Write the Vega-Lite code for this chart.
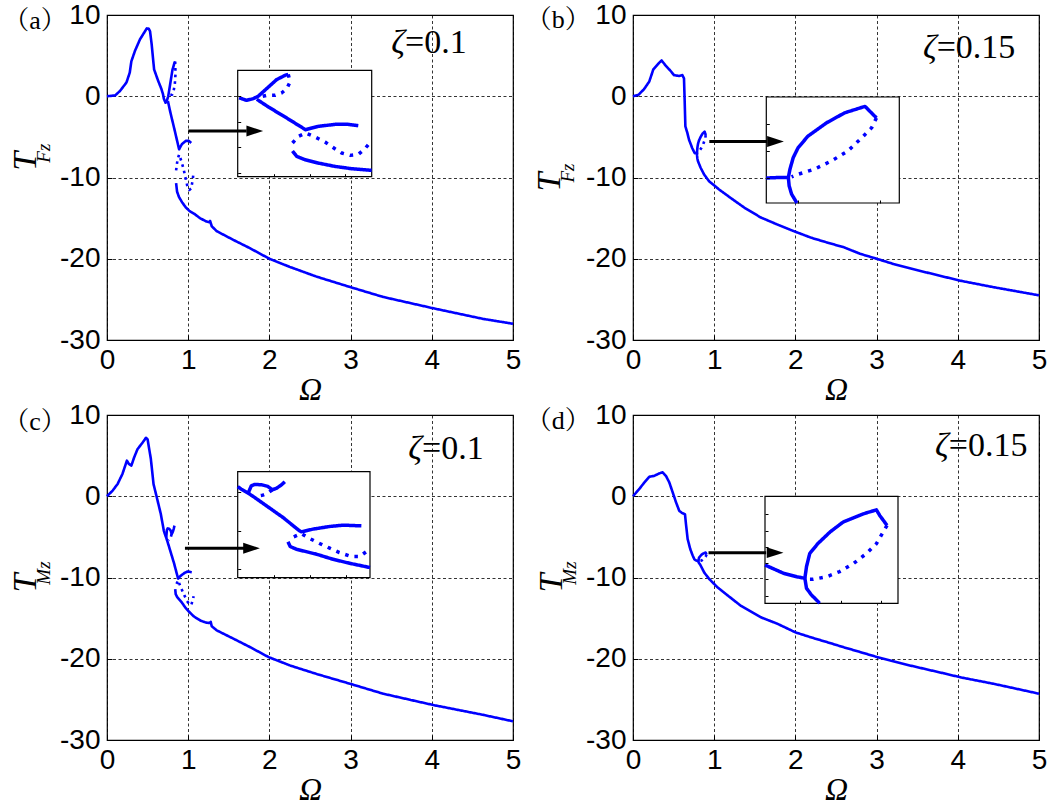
{
  "$schema": "https://vega.github.io/schema/vega-lite/v6.json",
  "background": "white",
  "padding": {"left": 2, "top": 0, "right": 0, "bottom": 0},
  "config": {
    "view": {"stroke": "black", "strokeWidth": 1.2},
    "axis": {
      "labelFont": "Liberation Sans", "labelFontSize": 28, "labelColor": "black",
      "tickColor": "black", "tickWidth": 1, "domain": false,
      "labelFlush": false, "labelOverlap": false, "labelBound": false,
      "gridColor": "black", "gridDash": [3, 2.5], "gridWidth": 0.8, "gridOpacity": 1,
      "titleFont": "Liberation Serif", "titleFontStyle": "italic", "titleFontWeight": "normal",
      "titleColor": "black", "titleFontSize": 32
    },
    "text": {"color": "black"}
  },
  "datasets": {
    "a": [
      {"s":"A1","k":"solid","o":0,"t":0},{"s":"A1","k":"solid","o":0.05,"t":0.05},{"s":"A1","k":"solid","o":0.1,"t":0.1},{"s":"A1","k":"solid","o":0.16,"t":0.65},{"s":"A1","k":"solid","o":0.24,"t":1.7},{"s":"A1","k":"solid","o":0.28,"t":2.9},{"s":"A1","k":"solid","o":0.3,"t":4.3},{"s":"A1","k":"solid","o":0.345,"t":5.6},{"s":"A1","k":"solid","o":0.406,"t":7.0},{"s":"A1","k":"solid","o":0.468,"t":8.0},{"s":"A1","k":"solid","o":0.49,"t":8.35},{"s":"A1","k":"solid","o":0.515,"t":8.3},{"s":"A1","k":"solid","o":0.53,"t":8.0},{"s":"A1","k":"solid","o":0.55,"t":6.4},{"s":"A1","k":"solid","o":0.58,"t":3.3},{"s":"A1","k":"solid","o":0.63,"t":1.9},{"s":"A1","k":"solid","o":0.67,"t":0.9},{"s":"A1","k":"solid","o":0.69,"t":0.24},{"s":"A1","k":"solid","o":0.7,"t":-0.3},{"s":"A1","k":"solid","o":0.707,"t":-0.47},{"s":"A1","k":"solid","o":0.721,"t":-0.8},{"s":"A1","k":"solid","o":0.74,"t":-0.47},{"s":"A1","k":"solid","o":0.754,"t":0},{"s":"A1","k":"solid","o":0.783,"t":1.8},{"s":"A1","k":"solid","o":0.806,"t":3.24},{"s":"A1","k":"solid","o":0.83,"t":4.08},{"s":"A1","k":"solid","o":0.839,"t":4.28},
      {"s":"A2","k":"dot","o":0.839,"t":4.28},{"s":"A2","k":"dot","o":0.844,"t":2.78},{"s":"A2","k":"dot","o":0.835,"t":1.48},{"s":"A2","k":"dot","o":0.82,"t":0.63},{"s":"A2","k":"dot","o":0.802,"t":0.18},{"s":"A2","k":"dot","o":0.778,"t":0.18},{"s":"A2","k":"dot","o":0.759,"t":-0.15},
      {"s":"A3","k":"solid","o":0.75,"t":-0.6},{"s":"A3","k":"solid","o":0.783,"t":-2.1},{"s":"A3","k":"solid","o":0.83,"t":-4.05},{"s":"A3","k":"solid","o":0.868,"t":-5.68},{"s":"A3","k":"solid","o":0.888,"t":-6.53},{"s":"A3","k":"solid","o":0.905,"t":-6.2},{"s":"A3","k":"solid","o":0.924,"t":-5.88},{"s":"A3","k":"solid","o":0.971,"t":-5.49},{"s":"A3","k":"solid","o":1.009,"t":-5.49},{"s":"A3","k":"solid","o":1.037,"t":-5.75},
      {"s":"A4","k":"dot","o":0.851,"t":-9.13},{"s":"A4","k":"dot","o":0.868,"t":-7.83},{"s":"A4","k":"dot","o":0.888,"t":-7.18},{"s":"A4","k":"dot","o":0.915,"t":-7.96},{"s":"A4","k":"dot","o":0.943,"t":-8.94},{"s":"A4","k":"dot","o":0.971,"t":-10.24},{"s":"A4","k":"dot","o":0.99,"t":-11.08},{"s":"A4","k":"dot","o":1.014,"t":-11.54},{"s":"A4","k":"dot","o":1.037,"t":-11.35},{"s":"A4","k":"dot","o":1.056,"t":-10.24},{"s":"A4","k":"dot","o":1.066,"t":-9.39},
      {"s":"A5","k":"solid","o":0.851,"t":-10.69},{"s":"A5","k":"solid","o":0.863,"t":-11.74},{"s":"A5","k":"solid","o":0.886,"t":-12.39},{"s":"A5","k":"solid","o":0.924,"t":-13.04},{"s":"A5","k":"solid","o":0.971,"t":-13.69},{"s":"A5","k":"solid","o":1.018,"t":-14.14},{"s":"A5","k":"solid","o":1.075,"t":-14.47},{"s":"A5","k":"solid","o":1.145,"t":-15.0},{"s":"A5","k":"solid","o":1.22,"t":-15.4},{"s":"A5","k":"solid","o":1.26,"t":-15.5},{"s":"A5","k":"solid","o":1.27,"t":-15.35},{"s":"A5","k":"solid","o":1.29,"t":-16.0},{"s":"A5","k":"solid","o":1.35,"t":-16.6},{"s":"A5","k":"solid","o":1.56,"t":-17.7},{"s":"A5","k":"solid","o":1.76,"t":-18.7},{"s":"A5","k":"solid","o":2.0,"t":-20.0},{"s":"A5","k":"solid","o":2.25,"t":-21.0},{"s":"A5","k":"solid","o":2.58,"t":-22.2},{"s":"A5","k":"solid","o":3.0,"t":-23.5},{"s":"A5","k":"solid","o":3.4,"t":-24.7},{"s":"A5","k":"solid","o":4.02,"t":-26.1},{"s":"A5","k":"solid","o":4.63,"t":-27.4},{"s":"A5","k":"solid","o":5.0,"t":-28.0}
    ],
    "b": [
      {"s":"B1","k":"solid","o":0,"t":0},{"s":"B1","k":"solid","o":0.07,"t":0.2},{"s":"B1","k":"solid","o":0.135,"t":0.86},{"s":"B1","k":"solid","o":0.2,"t":1.8},{"s":"B1","k":"solid","o":0.25,"t":3.3},{"s":"B1","k":"solid","o":0.32,"t":4.1},{"s":"B1","k":"solid","o":0.353,"t":4.4},{"s":"B1","k":"solid","o":0.4,"t":3.8},{"s":"B1","k":"solid","o":0.456,"t":3.2},{"s":"B1","k":"solid","o":0.505,"t":2.6},{"s":"B1","k":"solid","o":0.567,"t":2.5},{"s":"B1","k":"solid","o":0.608,"t":2.6},{"s":"B1","k":"solid","o":0.628,"t":2.2},{"s":"B1","k":"solid","o":0.636,"t":-0.45},{"s":"B1","k":"solid","o":0.645,"t":-3.7},{"s":"B1","k":"solid","o":0.669,"t":-4.5},{"s":"B1","k":"solid","o":0.69,"t":-5.35},{"s":"B1","k":"solid","o":0.73,"t":-6.4},{"s":"B1","k":"solid","o":0.761,"t":-7.02},{"s":"B1","k":"solid","o":0.776,"t":-7.0},{"s":"B1","k":"solid","o":0.788,"t":-7.0},{"s":"B1","k":"solid","o":0.789,"t":-7.31},{"s":"B1","k":"solid","o":0.792,"t":-7.62},{"s":"B1","k":"solid","o":0.7985,"t":-7.95},{"s":"B1","k":"solid","o":0.833,"t":-8.8},{"s":"B1","k":"solid","o":0.874,"t":-9.6},{"s":"B1","k":"solid","o":0.936,"t":-10.45},{"s":"B1","k":"solid","o":1.06,"t":-11.47},{"s":"B1","k":"solid","o":1.2,"t":-12.5},{"s":"B1","k":"solid","o":1.37,"t":-13.7},{"s":"B1","k":"solid","o":1.57,"t":-14.9},{"s":"B1","k":"solid","o":1.78,"t":-15.8},{"s":"B1","k":"solid","o":1.98,"t":-16.6},{"s":"B1","k":"solid","o":2.19,"t":-17.4},{"s":"B1","k":"solid","o":2.39,"t":-18.0},{"s":"B1","k":"solid","o":2.6,"t":-18.6},{"s":"B1","k":"solid","o":2.8,"t":-19.4},{"s":"B1","k":"solid","o":3.0,"t":-20.0},{"s":"B1","k":"solid","o":3.21,"t":-20.65},{"s":"B1","k":"solid","o":3.62,"t":-21.7},{"s":"B1","k":"solid","o":4.03,"t":-22.7},{"s":"B1","k":"solid","o":4.44,"t":-23.5},{"s":"B1","k":"solid","o":5.0,"t":-24.5},
      {"s":"B2","k":"solid","o":0.788,"t":-7.0},{"s":"B2","k":"solid","o":0.79,"t":-6.69},{"s":"B2","k":"solid","o":0.794,"t":-6.26},{"s":"B2","k":"solid","o":0.8,"t":-5.89},{"s":"B2","k":"solid","o":0.812,"t":-5.46},{"s":"B2","k":"solid","o":0.835,"t":-4.96},{"s":"B2","k":"solid","o":0.857,"t":-4.59},{"s":"B2","k":"solid","o":0.882,"t":-4.35},{"s":"B2","k":"solid","o":0.896,"t":-4.78},
      {"s":"B3","k":"dot","o":0.896,"t":-4.78},{"s":"B3","k":"dot","o":0.89,"t":-5.15},{"s":"B3","k":"dot","o":0.878,"t":-5.52},{"s":"B3","k":"dot","o":0.861,"t":-6.01},{"s":"B3","k":"dot","o":0.841,"t":-6.38},{"s":"B3","k":"dot","o":0.82,"t":-6.69},{"s":"B3","k":"dot","o":0.8,"t":-6.88},{"s":"B3","k":"dot","o":0.792,"t":-6.98}
    ],
    "c": [
      {"s":"C1","k":"solid","o":0,"t":0},{"s":"C1","k":"solid","o":0.07,"t":0.7},{"s":"C1","k":"solid","o":0.13,"t":1.5},{"s":"C1","k":"solid","o":0.19,"t":2.74},{"s":"C1","k":"solid","o":0.245,"t":4.38},{"s":"C1","k":"solid","o":0.27,"t":3.97},{"s":"C1","k":"solid","o":0.3,"t":3.77},{"s":"C1","k":"solid","o":0.335,"t":4.8},{"s":"C1","k":"solid","o":0.376,"t":5.8},{"s":"C1","k":"solid","o":0.438,"t":6.6},{"s":"C1","k":"solid","o":0.48,"t":7.2},{"s":"C1","k":"solid","o":0.5,"t":7.0},{"s":"C1","k":"solid","o":0.54,"t":4.6},{"s":"C1","k":"solid","o":0.573,"t":1.5},{"s":"C1","k":"solid","o":0.622,"t":-0.5},{"s":"C1","k":"solid","o":0.663,"t":-2.2},{"s":"C1","k":"solid","o":0.7,"t":-4.25},{"s":"C1","k":"solid","o":0.71,"t":-4.57},{"s":"C1","k":"solid","o":0.729,"t":-5.09},{"s":"C1","k":"solid","o":0.743,"t":-5.52},{"s":"C1","k":"solid","o":0.78,"t":-6.74},{"s":"C1","k":"solid","o":0.826,"t":-8.26},{"s":"C1","k":"solid","o":0.872,"t":-10.0},{"s":"C1","k":"solid","o":0.877,"t":-10.13},{"s":"C1","k":"solid","o":0.909,"t":-9.78},{"s":"C1","k":"solid","o":0.956,"t":-9.43},{"s":"C1","k":"solid","o":0.993,"t":-9.26},{"s":"C1","k":"solid","o":1.044,"t":-9.35},
      {"s":"C2","k":"solid","o":0.729,"t":-5.09},{"s":"C2","k":"solid","o":0.738,"t":-4.13},{"s":"C2","k":"solid","o":0.747,"t":-3.96},{"s":"C2","k":"solid","o":0.766,"t":-4.0},{"s":"C2","k":"solid","o":0.784,"t":-4.22},{"s":"C2","k":"solid","o":0.796,"t":-4.65},{"s":"C2","k":"solid","o":0.807,"t":-4.48},{"s":"C2","k":"solid","o":0.821,"t":-4.04},{"s":"C2","k":"solid","o":0.831,"t":-3.61},
      {"s":"C3","k":"dot","o":0.796,"t":-4.65},{"s":"C3","k":"dot","o":0.784,"t":-5.09},{"s":"C3","k":"dot","o":0.77,"t":-5.35},{"s":"C3","k":"dot","o":0.761,"t":-5.43},
      {"s":"C4","k":"dot","o":0.856,"t":-10.78},{"s":"C4","k":"dot","o":0.877,"t":-10.35},{"s":"C4","k":"dot","o":0.895,"t":-10.87},{"s":"C4","k":"dot","o":0.932,"t":-11.74},{"s":"C4","k":"dot","o":0.956,"t":-12.26},{"s":"C4","k":"dot","o":0.983,"t":-12.83},{"s":"C4","k":"dot","o":1.016,"t":-13.35},{"s":"C4","k":"dot","o":1.039,"t":-13.35},{"s":"C4","k":"dot","o":1.057,"t":-12.74},{"s":"C4","k":"dot","o":1.067,"t":-12.3},
      {"s":"C5","k":"solid","o":0.84,"t":-11.43},{"s":"C5","k":"solid","o":0.846,"t":-12.04},{"s":"C5","k":"solid","o":0.863,"t":-12.39},{"s":"C5","k":"solid","o":0.919,"t":-13.04},{"s":"C5","k":"solid","o":0.965,"t":-13.7},{"s":"C5","k":"solid","o":1.011,"t":-14.22},{"s":"C5","k":"solid","o":1.068,"t":-14.78},{"s":"C5","k":"solid","o":1.15,"t":-15.3},{"s":"C5","k":"solid","o":1.22,"t":-15.55},{"s":"C5","k":"solid","o":1.265,"t":-15.6},{"s":"C5","k":"solid","o":1.277,"t":-15.45},{"s":"C5","k":"solid","o":1.29,"t":-16.0},{"s":"C5","k":"solid","o":1.35,"t":-16.5},{"s":"C5","k":"solid","o":1.563,"t":-17.56},{"s":"C5","k":"solid","o":1.768,"t":-18.6},{"s":"C5","k":"solid","o":1.99,"t":-19.8},{"s":"C5","k":"solid","o":2.26,"t":-20.85},{"s":"C5","k":"solid","o":2.59,"t":-21.9},{"s":"C5","k":"solid","o":3.0,"t":-23.1},{"s":"C5","k":"solid","o":3.4,"t":-24.3},{"s":"C5","k":"solid","o":4.02,"t":-25.7},{"s":"C5","k":"solid","o":4.63,"t":-26.9},{"s":"C5","k":"solid","o":5.0,"t":-27.7}
    ],
    "d": [
      {"s":"D1","k":"solid","o":0,"t":0},{"s":"D1","k":"solid","o":0.078,"t":0.9},{"s":"D1","k":"solid","o":0.14,"t":1.7},{"s":"D1","k":"solid","o":0.2,"t":2.4},{"s":"D1","k":"solid","o":0.26,"t":2.5},{"s":"D1","k":"solid","o":0.32,"t":2.8},{"s":"D1","k":"solid","o":0.365,"t":2.95},{"s":"D1","k":"solid","o":0.406,"t":2.5},{"s":"D1","k":"solid","o":0.447,"t":1.7},{"s":"D1","k":"solid","o":0.488,"t":0.5},{"s":"D1","k":"solid","o":0.53,"t":-0.75},{"s":"D1","k":"solid","o":0.57,"t":-1.8},{"s":"D1","k":"solid","o":0.61,"t":-2.1},{"s":"D1","k":"solid","o":0.64,"t":-2.2},{"s":"D1","k":"solid","o":0.652,"t":-3.4},{"s":"D1","k":"solid","o":0.673,"t":-5.27},{"s":"D1","k":"solid","o":0.705,"t":-6.5},{"s":"D1","k":"solid","o":0.735,"t":-7.3},{"s":"D1","k":"solid","o":0.757,"t":-7.78},{"s":"D1","k":"solid","o":0.78,"t":-7.908},{"s":"D1","k":"solid","o":0.796,"t":-7.96},{"s":"D1","k":"solid","o":0.806,"t":-7.985},{"s":"D1","k":"solid","o":0.808,"t":-8.138},{"s":"D1","k":"solid","o":0.814,"t":-8.24},{"s":"D1","k":"solid","o":0.822,"t":-8.34},{"s":"D1","k":"solid","o":0.824,"t":-8.37},{"s":"D1","k":"solid","o":0.837,"t":-8.6},{"s":"D1","k":"solid","o":0.878,"t":-9.4},{"s":"D1","k":"solid","o":0.94,"t":-10.2},{"s":"D1","k":"solid","o":1.04,"t":-11.2},{"s":"D1","k":"solid","o":1.165,"t":-12.2},{"s":"D1","k":"solid","o":1.33,"t":-13.5},{"s":"D1","k":"solid","o":1.575,"t":-14.9},{"s":"D1","k":"solid","o":1.78,"t":-15.7},{"s":"D1","k":"solid","o":2.0,"t":-16.75},{"s":"D1","k":"solid","o":2.19,"t":-17.36},{"s":"D1","k":"solid","o":2.395,"t":-17.97},{"s":"D1","k":"solid","o":2.6,"t":-18.6},{"s":"D1","k":"solid","o":2.806,"t":-19.2},{"s":"D1","k":"solid","o":3.01,"t":-19.8},{"s":"D1","k":"solid","o":3.42,"t":-20.85},{"s":"D1","k":"solid","o":3.83,"t":-21.8},{"s":"D1","k":"solid","o":4.04,"t":-22.3},{"s":"D1","k":"solid","o":4.45,"t":-23.1},{"s":"D1","k":"solid","o":5.0,"t":-24.3},
      {"s":"D2","k":"solid","o":0.806,"t":-7.985},{"s":"D2","k":"solid","o":0.808,"t":-7.806},{"s":"D2","k":"solid","o":0.812,"t":-7.602},{"s":"D2","k":"solid","o":0.822,"t":-7.449},{"s":"D2","k":"solid","o":0.837,"t":-7.27},{"s":"D2","k":"solid","o":0.853,"t":-7.117},{"s":"D2","k":"solid","o":0.878,"t":-6.99},{"s":"D2","k":"solid","o":0.894,"t":-6.929},{"s":"D2","k":"solid","o":0.898,"t":-7.015},{"s":"D2","k":"solid","o":0.907,"t":-7.168},
      {"s":"D3","k":"dot","o":0.907,"t":-7.168},{"s":"D3","k":"dot","o":0.9,"t":-7.32},{"s":"D3","k":"dot","o":0.894,"t":-7.45},{"s":"D3","k":"dot","o":0.882,"t":-7.6},{"s":"D3","k":"dot","o":0.866,"t":-7.755},{"s":"D3","k":"dot","o":0.849,"t":-7.88},{"s":"D3","k":"dot","o":0.833,"t":-7.96},{"s":"D3","k":"dot","o":0.816,"t":-8.0},{"s":"D3","k":"dot","o":0.808,"t":-8.0}
    ]
  },
  "bounds": "flush",
  "columns": 2,
  "spacing": {"row": 75, "column": 120},
  "concat": [
    {
      "width": 406, "height": 325,
      "resolve": {"scale": {"x": "independent", "y": "independent", "strokeDash": "independent"}},
      "layer": [
        {"layer": [
          {"data": {"name": "a"},
           "transform": [{"window": [{"op": "row_number", "as": "n"}]}],
           "mark": {"type": "line", "color": "#0000ff", "strokeWidth": 2.6, "strokeJoin": "round"},
           "encoding": {
             "x": {"field": "o", "type": "quantitative", "scale": {"domain": [0, 5], "nice": false, "zero": false},
                   "axis": {"values": [0, 1, 2, 3, 4, 5], "labelExpr": "'' + datum.value", "grid": true, "tickSize": -5, "labelPadding": 11, "title": "Ω", "titlePadding": 0, "zindex": 0}},
             "y": {"field": "t", "type": "quantitative", "scale": {"domain": [-30, 10], "nice": false, "zero": false},
                   "axis": {"values": [-30, -20, -10, 0, 10], "labelExpr": "'' + datum.value", "grid": true, "tickSize": -5, "labelPadding": 12, "title": null, "zindex": 0}},
             "detail": {"field": "s", "type": "nominal"},
             "order": {"field": "n", "type": "quantitative"},
             "strokeDash": {"field": "k", "type": "nominal", "scale": {"domain": ["solid", "dot"], "range": [[1, 0], [2.6, 4]]}, "legend": null}
           }},
          {"data": {"values": [{"txt": "ζ"}]},
           "mark": {"type": "text", "font": "Liberation Serif", "fontStyle": "italic", "fontSize": 34, "align": "right", "baseline": "alphabetic"},
           "encoding": {"x": {"datum": 3.67, "type": "quantitative"}, "y": {"datum": 5.32, "type": "quantitative"}, "text": {"field": "txt"}}},
          {"data": {"values": [{"txt": "=0.1"}]},
           "mark": {"type": "text", "font": "Liberation Serif", "fontSize": 34, "align": "left", "baseline": "alphabetic"},
           "encoding": {"x": {"datum": 3.67, "type": "quantitative"}, "y": {"datum": 5.32, "type": "quantitative"}, "text": {"field": "txt"}}},
          {"data": {"values": [{"txt": "（a）"}]},
           "mark": {"type": "text", "font": "Liberation Serif, Noto Serif CJK SC, Noto Sans CJK SC", "fontSize": 26, "align": "center", "baseline": "middle"},
           "encoding": {"x": {"datum": -0.887, "type": "quantitative"}, "y": {"datum": 9.3, "type": "quantitative"}, "text": {"field": "txt"}}},
          {"data": {"values": [{"txt": "T"}]},
           "mark": {"type": "text", "font": "Liberation Serif", "fontStyle": "italic", "fontSize": 34, "angle": 270, "align": "center", "baseline": "middle"},
           "encoding": {"x": {"datum": -1.0, "type": "quantitative"}, "y": {"datum": -8.0, "type": "quantitative"}, "text": {"field": "txt"}}},
          {"data": {"values": [{"txt": "Fz"}]},
           "mark": {"type": "text", "font": "Liberation Serif", "fontStyle": "italic", "fontSize": 19, "angle": 270, "align": "center", "baseline": "middle"},
           "encoding": {"x": {"datum": -0.78, "type": "quantitative"}, "y": {"datum": -7.0, "type": "quantitative"}, "text": {"field": "txt"}}}
        ]},
        {"layer": [
          {"data": {"values": [{}]},
           "mark": {"type": "rect", "fill": "white", "stroke": "black", "strokeWidth": 1.2},
           "encoding": {
             "x": {"datum": 0.696, "type": "quantitative", "scale": {"domain": [0.696, 1.075], "range": [130.7, 264.7], "nice": false, "zero": false},
                   "axis": {"orient": "bottom", "offset": -163.3, "values": [0.8, 0.9, 1.0], "labels": false, "grid": false, "tickSize": -3, "title": null, "zindex": 1}},
             "x2": {"datum": 1.075},
             "y": {"datum": -15.7, "type": "quantitative", "scale": {"domain": [-15.7, 5.06], "range": [161.7, 55.3], "nice": false, "zero": false},
                   "axis": {"orient": "left", "offset": -130.7, "values": [0, -5, -10, -15], "labels": false, "grid": false, "tickSize": -3, "title": null, "zindex": 1}},
             "y2": {"datum": 5.06}
           }},
          {"data": {"name": "a"},
           "transform": [{"window": [{"op": "row_number", "as": "n"}]}, {"filter": "datum.o >= 0.696 && datum.o <= 1.075 && datum.t >= -15.7 && datum.t <= 5.06"}],
           "mark": {"type": "line", "color": "#0000ff", "strokeWidth": 3.5, "strokeJoin": "round"},
           "encoding": {
             "x": {"field": "o", "type": "quantitative", "scale": {"domain": [0.696, 1.075], "range": [130.7, 264.7], "nice": false, "zero": false}},
             "y": {"field": "t", "type": "quantitative", "scale": {"domain": [-15.7, 5.06], "range": [161.7, 55.3], "nice": false, "zero": false}},
             "detail": {"field": "s", "type": "nominal"},
             "order": {"field": "n", "type": "quantitative"},
             "strokeDash": {"field": "k", "type": "nominal", "scale": {"domain": ["solid", "dot"], "range": [[1, 0], [3.5, 6]]}, "legend": null}
           }}
        ]},
        {"layer": [
          {"data": {"values": [{}]},
           "mark": {"type": "rule", "color": "black", "strokeWidth": 3},
           "encoding": {"x": {"datum": 1.0, "type": "quantitative", "scale": {"domain": [0, 5], "nice": false, "zero": false}, "axis": null}, "x2": {"datum": 1.72},
                        "y": {"datum": -4.28, "type": "quantitative", "scale": {"domain": [-30, 10], "nice": false, "zero": false}, "axis": null}}},
          {"data": {"values": [{}]},
           "mark": {"type": "point", "filled": true, "color": "black", "opacity": 1, "shape": "M-1,-0.65L1,0L-1,0.65Z", "size": 280},
           "encoding": {"x": {"datum": 1.82, "type": "quantitative", "scale": {"domain": [0, 5], "nice": false, "zero": false}, "axis": null},
                        "y": {"datum": -4.28, "type": "quantitative", "scale": {"domain": [-30, 10], "nice": false, "zero": false}, "axis": null}}}
        ]}
      ]
    },
    {
      "width": 406, "height": 325,
      "resolve": {"scale": {"x": "independent", "y": "independent", "strokeDash": "independent"}},
      "layer": [
        {"layer": [
          {"data": {"name": "b"},
           "transform": [{"window": [{"op": "row_number", "as": "n"}]}],
           "mark": {"type": "line", "color": "#0000ff", "strokeWidth": 2.6, "strokeJoin": "round"},
           "encoding": {
             "x": {"field": "o", "type": "quantitative", "scale": {"domain": [0, 5], "nice": false, "zero": false},
                   "axis": {"values": [0, 1, 2, 3, 4, 5], "labelExpr": "'' + datum.value", "grid": true, "tickSize": -5, "labelPadding": 11, "title": "Ω", "titlePadding": 0, "zindex": 0}},
             "y": {"field": "t", "type": "quantitative", "scale": {"domain": [-30, 10], "nice": false, "zero": false},
                   "axis": {"values": [-30, -20, -10, 0, 10], "labelExpr": "'' + datum.value", "grid": true, "tickSize": -5, "labelPadding": 12, "title": null, "zindex": 0}},
             "detail": {"field": "s", "type": "nominal"},
             "order": {"field": "n", "type": "quantitative"},
             "strokeDash": {"field": "k", "type": "nominal", "scale": {"domain": ["solid", "dot"], "range": [[1, 0], [2.6, 4]]}, "legend": null}
           }},
          {"data": {"values": [{"txt": "ζ"}]},
           "mark": {"type": "text", "font": "Liberation Serif", "fontStyle": "italic", "fontSize": 34, "align": "right", "baseline": "alphabetic"},
           "encoding": {"x": {"datum": 3.74, "type": "quantitative"}, "y": {"datum": 4.74, "type": "quantitative"}, "text": {"field": "txt"}}},
          {"data": {"values": [{"txt": "=0.15"}]},
           "mark": {"type": "text", "font": "Liberation Serif", "fontSize": 34, "align": "left", "baseline": "alphabetic"},
           "encoding": {"x": {"datum": 3.74, "type": "quantitative"}, "y": {"datum": 4.74, "type": "quantitative"}, "text": {"field": "txt"}}},
          {"data": {"values": [{"txt": "（b）"}]},
           "mark": {"type": "text", "font": "Liberation Serif, Noto Serif CJK SC, Noto Sans CJK SC", "fontSize": 26, "align": "center", "baseline": "middle"},
           "encoding": {"x": {"datum": -0.92, "type": "quantitative"}, "y": {"datum": 9.4, "type": "quantitative"}, "text": {"field": "txt"}}},
          {"data": {"values": [{"txt": "T"}]},
           "mark": {"type": "text", "font": "Liberation Serif", "fontStyle": "italic", "fontSize": 34, "angle": 270, "align": "center", "baseline": "middle"},
           "encoding": {"x": {"datum": -1.02, "type": "quantitative"}, "y": {"datum": -10.55, "type": "quantitative"}, "text": {"field": "txt"}}},
          {"data": {"values": [{"txt": "Fz"}]},
           "mark": {"type": "text", "font": "Liberation Serif", "fontStyle": "italic", "fontSize": 19, "angle": 270, "align": "center", "baseline": "middle"},
           "encoding": {"x": {"datum": -0.8, "type": "quantitative"}, "y": {"datum": -9.45, "type": "quantitative"}, "text": {"field": "txt"}}}
        ]},
        {"layer": [
          {"data": {"values": [{}]},
           "mark": {"type": "rect", "fill": "white", "stroke": "black", "strokeWidth": 1.2},
           "encoding": {
             "x": {"datum": 0.761, "type": "quantitative", "scale": {"domain": [0.761, 0.924], "range": [133.3, 266.3], "nice": false, "zero": false},
                   "axis": {"orient": "bottom", "offset": -137, "values": [0.8, 0.9], "labels": false, "grid": false, "tickSize": -3, "title": null, "zindex": 1}},
             "x2": {"datum": 0.924},
             "y": {"datum": -7.95, "type": "quantitative", "scale": {"domain": [-7.95, -4.0], "range": [188, 82], "nice": false, "zero": false},
                   "axis": {"orient": "left", "offset": -133.3, "values": [-5, -6, -7], "labels": false, "grid": false, "tickSize": -3, "title": null, "zindex": 1}},
             "y2": {"datum": -4.0}
           }},
          {"data": {"name": "b"},
           "transform": [{"window": [{"op": "row_number", "as": "n"}]}, {"filter": "datum.o >= 0.761 && datum.o <= 0.924 && datum.t >= -7.95 && datum.t <= -4.0"}],
           "mark": {"type": "line", "color": "#0000ff", "strokeWidth": 3.5, "strokeJoin": "round"},
           "encoding": {
             "x": {"field": "o", "type": "quantitative", "scale": {"domain": [0.761, 0.924], "range": [133.3, 266.3], "nice": false, "zero": false}},
             "y": {"field": "t", "type": "quantitative", "scale": {"domain": [-7.95, -4.0], "range": [188, 82], "nice": false, "zero": false}},
             "detail": {"field": "s", "type": "nominal"},
             "order": {"field": "n", "type": "quantitative"},
             "strokeDash": {"field": "k", "type": "nominal", "scale": {"domain": ["solid", "dot"], "range": [[1, 0], [3.5, 6]]}, "legend": null}
           }}
        ]},
        {"layer": [
          {"data": {"values": [{}]},
           "mark": {"type": "rule", "color": "black", "strokeWidth": 3},
           "encoding": {"x": {"datum": 0.94, "type": "quantitative", "scale": {"domain": [0, 5], "nice": false, "zero": false}, "axis": null}, "x2": {"datum": 1.65},
                        "y": {"datum": -5.57, "type": "quantitative", "scale": {"domain": [-30, 10], "nice": false, "zero": false}, "axis": null}}},
          {"data": {"values": [{}]},
           "mark": {"type": "point", "filled": true, "color": "black", "opacity": 1, "shape": "M-1,-0.65L1,0L-1,0.65Z", "size": 280},
           "encoding": {"x": {"datum": 1.755, "type": "quantitative", "scale": {"domain": [0, 5], "nice": false, "zero": false}, "axis": null},
                        "y": {"datum": -5.57, "type": "quantitative", "scale": {"domain": [-30, 10], "nice": false, "zero": false}, "axis": null}}}
        ]}
      ]
    },
    {
      "width": 406, "height": 325,
      "resolve": {"scale": {"x": "independent", "y": "independent", "strokeDash": "independent"}},
      "layer": [
        {"layer": [
          {"data": {"name": "c"},
           "transform": [{"window": [{"op": "row_number", "as": "n"}]}],
           "mark": {"type": "line", "color": "#0000ff", "strokeWidth": 2.6, "strokeJoin": "round"},
           "encoding": {
             "x": {"field": "o", "type": "quantitative", "scale": {"domain": [0, 5], "nice": false, "zero": false},
                   "axis": {"values": [0, 1, 2, 3, 4, 5], "labelExpr": "'' + datum.value", "grid": true, "tickSize": -5, "labelPadding": 11, "title": "Ω", "titlePadding": 0, "zindex": 0}},
             "y": {"field": "t", "type": "quantitative", "scale": {"domain": [-30, 10], "nice": false, "zero": false},
                   "axis": {"values": [-30, -20, -10, 0, 10], "labelExpr": "'' + datum.value", "grid": true, "tickSize": -5, "labelPadding": 12, "title": null, "zindex": 0}},
             "detail": {"field": "s", "type": "nominal"},
             "order": {"field": "n", "type": "quantitative"},
             "strokeDash": {"field": "k", "type": "nominal", "scale": {"domain": ["solid", "dot"], "range": [[1, 0], [2.6, 4]]}, "legend": null}
           }},
          {"data": {"values": [{"txt": "ζ"}]},
           "mark": {"type": "text", "font": "Liberation Serif", "fontStyle": "italic", "fontSize": 34, "align": "right", "baseline": "alphabetic"},
           "encoding": {"x": {"datum": 3.88, "type": "quantitative"}, "y": {"datum": 4.58, "type": "quantitative"}, "text": {"field": "txt"}}},
          {"data": {"values": [{"txt": "=0.1"}]},
           "mark": {"type": "text", "font": "Liberation Serif", "fontSize": 34, "align": "left", "baseline": "alphabetic"},
           "encoding": {"x": {"datum": 3.88, "type": "quantitative"}, "y": {"datum": 4.58, "type": "quantitative"}, "text": {"field": "txt"}}},
          {"data": {"values": [{"txt": "（c）"}]},
           "mark": {"type": "text", "font": "Liberation Serif, Noto Serif CJK SC, Noto Sans CJK SC", "fontSize": 26, "align": "center", "baseline": "middle"},
           "encoding": {"x": {"datum": -0.887, "type": "quantitative"}, "y": {"datum": 9.14, "type": "quantitative"}, "text": {"field": "txt"}}},
          {"data": {"values": [{"txt": "T"}]},
           "mark": {"type": "text", "font": "Liberation Serif", "fontStyle": "italic", "fontSize": 34, "angle": 270, "align": "center", "baseline": "middle"},
           "encoding": {"x": {"datum": -0.995, "type": "quantitative"}, "y": {"datum": -10.68, "type": "quantitative"}, "text": {"field": "txt"}}},
          {"data": {"values": [{"txt": "Mz"}]},
           "mark": {"type": "text", "font": "Liberation Serif", "fontStyle": "italic", "fontSize": 19, "angle": 270, "align": "center", "baseline": "middle"},
           "encoding": {"x": {"datum": -0.77, "type": "quantitative"}, "y": {"datum": -9.45, "type": "quantitative"}, "text": {"field": "txt"}}}
        ]},
        {"layer": [
          {"data": {"values": [{}]},
           "mark": {"type": "rect", "fill": "white", "stroke": "black", "strokeWidth": 1.2},
           "encoding": {
             "x": {"datum": 0.7, "type": "quantitative", "scale": {"domain": [0.7, 1.068], "range": [130.7, 263], "nice": false, "zero": false},
                   "axis": {"orient": "bottom", "offset": -162.3, "values": [0.8, 0.9, 1.0], "labels": false, "grid": false, "tickSize": -3, "title": null, "zindex": 1}},
             "x2": {"datum": 1.068},
             "y": {"datum": -16.1, "type": "quantitative", "scale": {"domain": [-16.1, -2.3], "range": [162.7, 56.7], "nice": false, "zero": false},
                   "axis": {"orient": "left", "offset": -130.7, "values": [-5, -10, -15], "labels": false, "grid": false, "tickSize": -3, "title": null, "zindex": 1}},
             "y2": {"datum": -2.3}
           }},
          {"data": {"name": "c"},
           "transform": [{"window": [{"op": "row_number", "as": "n"}]}, {"filter": "datum.o >= 0.7 && datum.o <= 1.068 && datum.t >= -16.1 && datum.t <= -2.3"}],
           "mark": {"type": "line", "color": "#0000ff", "strokeWidth": 3.5, "strokeJoin": "round"},
           "encoding": {
             "x": {"field": "o", "type": "quantitative", "scale": {"domain": [0.7, 1.068], "range": [130.7, 263], "nice": false, "zero": false}},
             "y": {"field": "t", "type": "quantitative", "scale": {"domain": [-16.1, -2.3], "range": [162.7, 56.7], "nice": false, "zero": false}},
             "detail": {"field": "s", "type": "nominal"},
             "order": {"field": "n", "type": "quantitative"},
             "strokeDash": {"field": "k", "type": "nominal", "scale": {"domain": ["solid", "dot"], "range": [[1, 0], [3.5, 6]]}, "legend": null}
           }}
        ]},
        {"layer": [
          {"data": {"values": [{}]},
           "mark": {"type": "rule", "color": "black", "strokeWidth": 3},
           "encoding": {"x": {"datum": 0.96, "type": "quantitative", "scale": {"domain": [0, 5], "nice": false, "zero": false}, "axis": null}, "x2": {"datum": 1.69},
                        "y": {"datum": -6.4, "type": "quantitative", "scale": {"domain": [-30, 10], "nice": false, "zero": false}, "axis": null}}},
          {"data": {"values": [{}]},
           "mark": {"type": "point", "filled": true, "color": "black", "opacity": 1, "shape": "M-1,-0.65L1,0L-1,0.65Z", "size": 280},
           "encoding": {"x": {"datum": 1.78, "type": "quantitative", "scale": {"domain": [0, 5], "nice": false, "zero": false}, "axis": null},
                        "y": {"datum": -6.4, "type": "quantitative", "scale": {"domain": [-30, 10], "nice": false, "zero": false}, "axis": null}}}
        ]}
      ]
    },
    {
      "width": 406, "height": 325,
      "resolve": {"scale": {"x": "independent", "y": "independent", "strokeDash": "independent"}},
      "layer": [
        {"layer": [
          {"data": {"name": "d"},
           "transform": [{"window": [{"op": "row_number", "as": "n"}]}],
           "mark": {"type": "line", "color": "#0000ff", "strokeWidth": 2.6, "strokeJoin": "round"},
           "encoding": {
             "x": {"field": "o", "type": "quantitative", "scale": {"domain": [0, 5], "nice": false, "zero": false},
                   "axis": {"values": [0, 1, 2, 3, 4, 5], "labelExpr": "'' + datum.value", "grid": true, "tickSize": -5, "labelPadding": 11, "title": "Ω", "titlePadding": 0, "zindex": 0}},
             "y": {"field": "t", "type": "quantitative", "scale": {"domain": [-30, 10], "nice": false, "zero": false},
                   "axis": {"values": [-30, -20, -10, 0, 10], "labelExpr": "'' + datum.value", "grid": true, "tickSize": -5, "labelPadding": 12, "title": null, "zindex": 0}},
             "detail": {"field": "s", "type": "nominal"},
             "order": {"field": "n", "type": "quantitative"},
             "strokeDash": {"field": "k", "type": "nominal", "scale": {"domain": ["solid", "dot"], "range": [[1, 0], [2.6, 4]]}, "legend": null}
           }},
          {"data": {"values": [{"txt": "ζ"}]},
           "mark": {"type": "text", "font": "Liberation Serif", "fontStyle": "italic", "fontSize": 34, "align": "right", "baseline": "alphabetic"},
           "encoding": {"x": {"datum": 3.89, "type": "quantitative"}, "y": {"datum": 4.95, "type": "quantitative"}, "text": {"field": "txt"}}},
          {"data": {"values": [{"txt": "=0.15"}]},
           "mark": {"type": "text", "font": "Liberation Serif", "fontSize": 34, "align": "left", "baseline": "alphabetic"},
           "encoding": {"x": {"datum": 3.89, "type": "quantitative"}, "y": {"datum": 4.95, "type": "quantitative"}, "text": {"field": "txt"}}},
          {"data": {"values": [{"txt": "（d）"}]},
           "mark": {"type": "text", "font": "Liberation Serif, Noto Serif CJK SC, Noto Sans CJK SC", "fontSize": 26, "align": "center", "baseline": "middle"},
           "encoding": {"x": {"datum": -0.92, "type": "quantitative"}, "y": {"datum": 9.26, "type": "quantitative"}, "text": {"field": "txt"}}},
          {"data": {"values": [{"txt": "T"}]},
           "mark": {"type": "text", "font": "Liberation Serif", "fontStyle": "italic", "fontSize": 34, "angle": 270, "align": "center", "baseline": "middle"},
           "encoding": {"x": {"datum": -0.995, "type": "quantitative"}, "y": {"datum": -10.68, "type": "quantitative"}, "text": {"field": "txt"}}},
          {"data": {"values": [{"txt": "Mz"}]},
           "mark": {"type": "text", "font": "Liberation Serif", "fontStyle": "italic", "fontSize": 19, "angle": 270, "align": "center", "baseline": "middle"},
           "encoding": {"x": {"datum": -0.776, "type": "quantitative"}, "y": {"datum": -9.45, "type": "quantitative"}, "text": {"field": "txt"}}}
        ]},
        {"layer": [
          {"data": {"values": [{}]},
           "mark": {"type": "rect", "fill": "white", "stroke": "black", "strokeWidth": 1.2},
           "encoding": {
             "x": {"datum": 0.757, "type": "quantitative", "scale": {"domain": [0.757, 0.9205], "range": [132, 265], "nice": false, "zero": false},
                   "axis": {"orient": "bottom", "offset": -136.7, "values": [0.8, 0.85, 0.9], "labels": false, "grid": false, "tickSize": -3, "title": null, "zindex": 1}},
             "x2": {"datum": 0.9205},
             "y": {"datum": -8.37, "type": "quantitative", "scale": {"domain": [-8.37, -6.72], "range": [188.3, 81.3], "nice": false, "zero": false},
                   "axis": {"orient": "left", "offset": -132, "values": [-8.25, -8, -7.75, -7.5, -7.25, -7], "labels": false, "grid": false, "tickSize": -3, "title": null, "zindex": 1}},
             "y2": {"datum": -6.72}
           }},
          {"data": {"name": "d"},
           "transform": [{"window": [{"op": "row_number", "as": "n"}]}, {"filter": "datum.o >= 0.757 && datum.o <= 0.9205 && datum.t >= -8.37 && datum.t <= -6.72"}],
           "mark": {"type": "line", "color": "#0000ff", "strokeWidth": 3.5, "strokeJoin": "round"},
           "encoding": {
             "x": {"field": "o", "type": "quantitative", "scale": {"domain": [0.757, 0.9205], "range": [132, 265], "nice": false, "zero": false}},
             "y": {"field": "t", "type": "quantitative", "scale": {"domain": [-8.37, -6.72], "range": [188.3, 81.3], "nice": false, "zero": false}},
             "detail": {"field": "s", "type": "nominal"},
             "order": {"field": "n", "type": "quantitative"},
             "strokeDash": {"field": "k", "type": "nominal", "scale": {"domain": ["solid", "dot"], "range": [[1, 0], [3.5, 6]]}, "legend": null}
           }}
        ]},
        {"layer": [
          {"data": {"values": [{}]},
           "mark": {"type": "rule", "color": "black", "strokeWidth": 3},
           "encoding": {"x": {"datum": 0.93, "type": "quantitative", "scale": {"domain": [0, 5], "nice": false, "zero": false}, "axis": null}, "x2": {"datum": 1.64},
                        "y": {"datum": -6.94, "type": "quantitative", "scale": {"domain": [-30, 10], "nice": false, "zero": false}, "axis": null}}},
          {"data": {"values": [{}]},
           "mark": {"type": "point", "filled": true, "color": "black", "opacity": 1, "shape": "M-1,-0.65L1,0L-1,0.65Z", "size": 280},
           "encoding": {"x": {"datum": 1.75, "type": "quantitative", "scale": {"domain": [0, 5], "nice": false, "zero": false}, "axis": null},
                        "y": {"datum": -6.94, "type": "quantitative", "scale": {"domain": [-30, 10], "nice": false, "zero": false}, "axis": null}}}
        ]}
      ]
    }
  ]
}
